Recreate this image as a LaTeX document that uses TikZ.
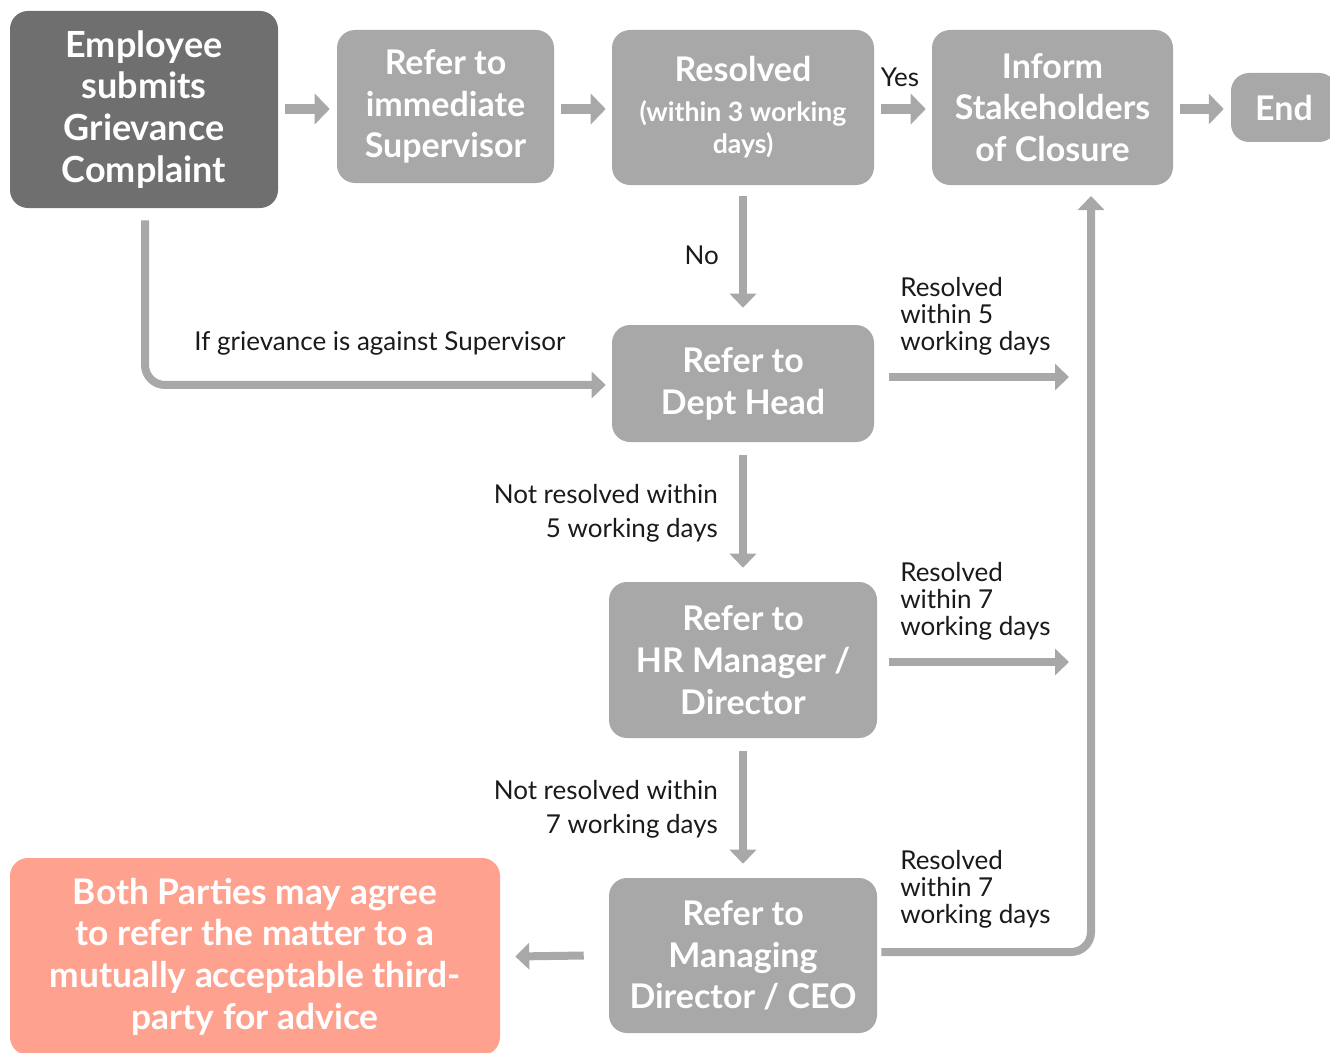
\documentclass[tikz,border=0pt]{standalone}
\usepackage{fontspec}
\setmainfont{Lato}
\usetikzlibrary{arrows.meta}
\definecolor{dkgray}{HTML}{6E6F6E}
\definecolor{ltgray}{HTML}{A7A8A7}
\definecolor{salmon}{HTML}{FEA18F}
\definecolor{ink}{HTML}{1A1A1A}
\begin{document}
\begin{tikzpicture}[x=0.75pt,y=-0.75pt,
  box/.style={rounded corners=13.5pt, fill=ltgray, text=white, align=center, inner sep=0pt,
    font=\fontsize{25.5}{31.3}\selectfont\bfseries},
  arr/.style={draw=ltgray, line width=6pt, -{Triangle[length=10.5pt,width=19.5pt]}},
  arrbig/.style={draw=ltgray, line width=7.5pt, -{Triangle[length=11.25pt,width=22.5pt]}},
  lbl/.style={text=ink, inner sep=0pt, font=\fontsize{19.5}{20.25}\selectfont},
  lblr/.style={text=ink, inner sep=0pt, align=right, font=\fontsize{19.5}{25.5}\selectfont},
]
\useasboundingbox (0,0) rectangle (1330,1052);

% boxes
\node[box, fill=dkgray, minimum width=201pt, minimum height=147.75pt, font=\fontsize{27}{31.3}\selectfont\bfseries] (emp) at (144,109.5)
  {Employee\\submits\\Grievance\\Complaint};
\node[box, minimum width=162.75pt, minimum height=114.75pt] (sup) at (445.5,106.5)
  {Refer to\\immediate\\Supervisor};
\node[box, minimum width=196.5pt, minimum height=116.25pt, font=\fontsize{20}{24}\selectfont\bfseries] (res) at (743,107.5)
  {{\fontsize{25.5}{31.3}\selectfont Resolved}\\[6pt](within 3 working\\days)};
\node[box, minimum width=180.75pt, minimum height=116.25pt] (inf) at (1052.5,107.5)
  {Inform\\Stakeholders\\of Closure};
\node[box, minimum width=79.5pt, minimum height=51.75pt] (end) at (1284,107.5) {End};
\node[box, minimum width=196.5pt, minimum height=87.75pt] (dept) at (743,383.5)
  {Refer to\\Dept Head};
\node[box, minimum width=201pt, minimum height=117pt] (hr) at (743,660)
  {Refer to\\HR Manager /\\Director};
\node[box, minimum width=201pt, minimum height=116.25pt] (md) at (743,955.5)
  {Refer to\\Managing\\Director / CEO};
\node[box, fill=salmon, minimum width=367.5pt, minimum height=147.75pt, font=\fontsize{26.5}{31.3}\selectfont\bfseries] (both) at (255,956.5)
  {Both Parties may agree\\to refer the matter to a\\mutually acceptable third-\\party for advice};

% free ends
\coordinate (r1) at (1069,377);
\coordinate (r2) at (1069,662);
\coordinate (up) at (1091,196);

% top row
\draw[arrbig, shorten <=5.25pt, shorten >=5.25pt] (emp.east |- 0,109) -- (sup.west |- 0,109);
\draw[arrbig, shorten <=5.25pt, shorten >=4.5pt] (sup.east |- 0,109) -- (res.west |- 0,109);
\draw[arrbig, shorten <=5.25pt, shorten >=4.5pt] (res.east |- 0,109) -- (inf.west |- 0,109);
\draw[arrbig, shorten <=5.25pt, shorten >=5.25pt] (inf.east |- 0,109) -- (end.west |- 0,109);
\node[lbl] (yes) at (900,77) {Yes};

% vertical chain
\draw[arr] ([yshift=-8.25pt]res.south) -- ([yshift=12.75pt]dept.north);
\node[lbl, anchor=east] (no) at (719,255) {No};
\draw[arr] ([yshift=-9.75pt]dept.south) -- ([yshift=10.5pt]hr.north);
\node[lblr, anchor=east] (nr5) at (718,513) {Not resolved within\\5 working days};
\draw[arr] ([yshift=-9.75pt]hr.south) -- ([yshift=10.5pt]md.north);
\node[lblr, anchor=east] (nr7) at (718,809) {Not resolved within\\7 working days};

% supervisor bypass
\draw[arr, rounded corners=15pt] ([xshift=0.75pt,yshift=-9pt]emp.south) |- ([xshift=-4.5pt,yshift=-1.1pt]dept.west);
\node[lbl] (ifg) at (380,343) {If grievance is against Supervisor};

% resolved arrows
\draw[arr] (dept.east |- r1) ++(15,0) -- (r1);
\node[lbl, align=left, anchor=west] (res5) at (900,316) {Resolved\\within 5\\working days};
\draw[arr] (hr.east |- r2) ++(12,0) -- (r2);
\node[lbl, align=left, anchor=west] (res7a) at (900,601) {Resolved\\within 7\\working days};
\draw[arr, rounded corners=15pt] ([xshift=3pt,yshift=2.6pt]md.east) -| (up);
\node[lbl, align=left, anchor=west] (res7b) at (900,889) {Resolved\\within 7\\working days};

% to third party
\draw[arr] ([xshift=-18.75pt]md.west) -- ([xshift=11.25pt]both.east);
\end{tikzpicture}
\end{document}
